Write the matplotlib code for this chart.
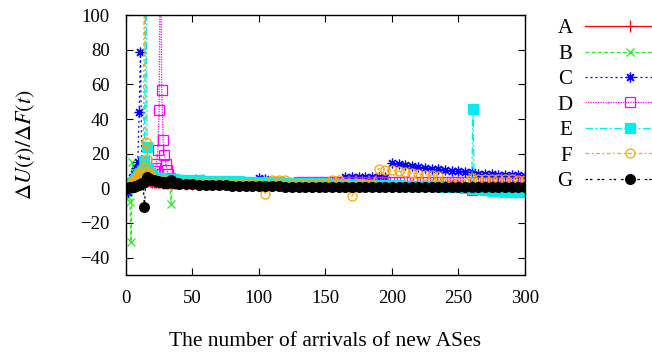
import numpy as np
import matplotlib.pyplot as plt

plt.rcParams['font.family'] = ['Liberation Serif', 'DejaVu Serif']
plt.rcParams['mathtext.fontset'] = 'stix'

# arrival index: every arrival up to 40, then every 5th
x = np.concatenate([np.arange(0, 41), np.arange(45, 301, 5)])
# E is sampled a little finer around its late jump
x_E = np.concatenate([np.arange(0, 41), np.arange(45, 256, 5),
                      [260, 261, 262], np.arange(265, 301, 5)])

A = [0, 0.5, 1, 1, 1.5, 2, 2, 2.5, 3, 3,
     3.5, 3.5, 4, 4, 4.5, 4.5, 4.5, 4, 4, 4,
     3.8, 3.8, 3.6, 3.6, 3.5, 3.5, 3.4, 3.4, 3.3, 3.3,
     3.2, 3.2, 3.1, 3.1, 3, 3, 3, 2.9, 2.9, 2.8,
     2.8,
     2.7, 2.6, 2.5, 2.5, 2.4, 2.4, 2.3, 2.3, 2.2, 2.2,
     2.1, 2.1, 2, 2, 2, 2, 1.9, 1.9, 1.9, 1.8,
     1.8, 1.8, 1.8, 1.7, 1.7, 1.7, 1.7, 1.6, 1.6, 1.6,
     1.6, 1.6, 1.5, 1.5, 1.5, 1.5, 1.5, 1.5, 1.4, 1.4,
     1.4, 1.4, 1.4, 1.4, 1.4, 1.3, 1.3, 1.3, 1.3, 1.3,
     1.3, 1.3]

B = [0, -2, -5, -8, -31, 15, 4, 9, 6, 5,
     6, 5, 5, 5, 4.5, 4.5, 4.5, 4.5, 4.5, 4.5,
     4.5, 4.5, 4.5, 4, 4, 4, 4, 4, 4, 4,
     4, 4, 3.8, 3.8, -9, 4, 4, 3.8, 3.8, 3.8,
     3.8,
     3.7, 3.6, 6, 3.5, 3.4, 3.3, 3.2, 3.1, 3, 3,
     2.9, 2.9, 2.8, 2.8, 2.7, 2.7, 2.6, 2.6, 2.5, 2.5,
     2.5, 2.4, 2.4, 2.4, 2.3, 2.3, 2.3, 2.2, 2.2, 2.2,
     2.2, 2.1, 2.1, 2.1, 2.1, 2, 2, 2, 2, 2,
     2, 1.9, 1.9, 1.9, 1.9, 1.9, 1.8, 1.8, 1.8, 1.8,
     1.8, 1.8]

C = [0, -1, -2, 1, 3, 6, 8, 5, 12, 15,
     44, 79, 15, 9, 7, 6, 5.5, 5, 5, 5,
     4.8, 4.8, 4.6, 4.6, 4.5, 4.5, 4.4, 4.4, 4.3, 4.3,
     4.2, 4.2, 4.1, 4.1, 4, 4, 4, 3.9, 3.9, 3.9,
     3.8,
     3.8, 3.7, 3.7, 3.6, 3.6, 3.5, 3.5, 3.4, 3.4, 3.4,
     3.4, 6.2, 5.5, 3.4, 3.3, 3.3, 3.3, 3.2, 3.2, 3.2,
     3.2, 3.1, 3.1, 3.1, 6.5, 6.4, 6.4, 6.3, 6.3, 6.5,
     6.4, 14.4, 13.9, 13.4, 12.9, 12.4, 11.9, 11.4, 10.9, 10.5,
     10.1, 9.8, 9.5, 9.3, 8.3, 8.1, 8, 7.9, 7.8, 7.6,
     7.5, 7.4]

D = [0, 0.5, 1, 1, 1.5, 2, 2, 2.5, 3, 3,
     3.5, 3.5, 4, 4, 5, 5, 6, 6, 7, 8,
     8, 10, 12, 14, 22, 45, 150, 57, 28, 19,
     14, 10.5, 8, 6, 5, 4.5, 4.2, 4, 4, 3.9,
     3.8,
     3.7, 3.6, 3.5, 3.5, 3.4, 3.4, 3.4, 3.3, 3.3, 3.3,
     3.3, 3.3, 3.3, 3.3, 3.3, 3.3, 3.3, 3.4, 3.4, 3.4,
     3.4, 3.4, 3.4, 3.4, 3.4, 3.4, 3.4, 3.4, 3.5, 3.5,
     3.5, 3.5, 3.5, 3.5, 3.5, 3.5, 3.5, 3.5, 3.5, 3.5,
     3.5, 3.5, 3.5, -1, 3.5, 3.5, 3.6, 3.6, 3.6, 3.6,
     3.6, 3.6]

E = [0, 0.5, 1, 1.5, 2, 3, 4, 5, 6, 7,
     8, 9, 10, 10, 16, 150, 24, 12, 9, 8,
     7, 6.5, 6, 6, 6, 5.8, 5.8, 5.6, 5.6, 5.5,
     5.5, 5.4, 5.4, 5.3, 5.2, 5.2, 5.1, 5, 5, 5,
     4.9,
     4.8, 4.7, 4.6, 4.5, 4.4, 4.3, 4.2, 4.1, 4, 3.9,
     3.8, 3.7, 3.6, 3.5, 3.4, 3.3, 3.2, 3.1, 3, 3,
     2.9, 2.8, 2.7, 2.6, 2.5, 2.4, 2.3, 2.2, 2.1, 2,
     1.9, 1.8, 1.7, 1.6, 1.5, 1.4, 1.3, 1.2, 1.1, 1,
     0.8, 0.6, 0.4, 0.2, 46, -0.3, -0.5, -1, -1.5, -1.5, -2, -2,
     -2, -2]

F = [0, 0.5, 1, 1.5, 2, 3, 4, 5, 6, 7,
     8, 9, 10, 12, 150, 27, 17, 10, 8, 7,
     6, 5.5, 5, 5, 4.5, 4.5, 4.2, 4.2, 4, 4,
     3.8, 3.8, 3.6, 3.6, 3.5, 3.5, 3.4, 3.4, 3.3, 3.3,
     3.2,
     3.1, 3, 3, 2.9, 2.9, 2.8, 2.8, 2.7, 2.7, 2.6,
     2.6, 2.6, -3, 4.6, 4.6, 4.6, 2.5, 2.5, 2.5, 2.5,
     2.5, 2.5, 4.6, 4.6, 2.5, -4.6, 2.5, 2.5, 2.5, 11.3,
     10.8, 10.3, 9.8, 9.3, 8.8, 8.3, 7.9, 7.5, 7.1, 3.3,
     3.3, 3.3, 3.3, 5.8, 5.6, 5.5, 5.4, 5.3, 5.2, 5.1,
     5, 4.9]

G = [0, 0, 0, 0.5, 0.5, 1, 1, 1.5, 1.5, 2,
     2, 2.5, 3, 3, -11, 4.5, 6.5, 6, 5.5, 5,
     4.8, 4.6, 4.4, 4.2, 4, 3.8, 3.6, 3.5, 3.4, 3.3,
     3.2, 3.2, 3.5, 4.5, 4.6, 3.5, 3, 3, 2.9, 2.8,
     2.7,
     2.5, 2.3, 2.1, 2, 1.9, 1.8, 1.7, 1.6, 1.5, 1.4,
     1.3, 1.2, 1.2, 1.1, 1.1, 1, 1, 1, 0.9, 0.9,
     0.9, 0.9, 0.8, 0.8, 0.8, 0.8, 0.8, 0.8, 0.8, 0.8,
     0.8, 0.8, 0.8, 0.8, 0.8, 0.8, 0.8, 0.8, 0.8, 0.8,
     0.8, 0.8, 0.8, 0.8, 0.8, 0.8, 0.8, 0.8, 0.8, 0.8,
     0.8, 0.8]

labels = ['A', 'B', 'C', 'D', 'E', 'F', 'G']
series = [A, B, C, D, E, F, G]
xs = [x, x, x, x, x_E, x, x]

styles = [
    dict(color='#ff0000', ls='-', marker='+', ms=8, mfc='#ff0000'),
    dict(color='#22ee22', ls=(0, (3, 2)), marker='x', ms=6, mfc='#22ee22'),
    dict(color='#0000ff', ls=(0, (1.6, 2.4)), marker=(8, 2, 0), ms=7, mfc='#0000ff'),
    dict(color='#ff00ff', ls=(0, (1, 1)), marker='s', ms=6.5, mfc='none'),
    dict(color='#00eeee', ls=(0, (6, 2, 1.5, 2)), marker='s', ms=6.5, mfc='#00eeee'),
    dict(color='#ffa500', ls=(0, (3, 2, 1.5, 2)), marker='o', ms=6.5, mfc='none'),
    dict(color='#000000', ls=(0, (2, 1.5, 2, 4)), marker='o', ms=7, mfc='#000000'),
]

fig = plt.figure(figsize=(6.52, 3.52), dpi=100)
ax = fig.add_axes([0.193, 0.219, 0.612, 0.738])

handles = []
for lab, xx, y, st in zip(labels, xs, series, styles):
    h, = ax.plot(xx, y, lw=0.9, mew=0.9, label=lab, **st)
    handles.append(h)

ax.set_xlim(0, 300)
ax.set_ylim(-50, 100)
ax.set_xticks([0, 50, 100, 150, 200, 250, 300])
ax.set_yticks([-40, -20, 0, 20, 40, 60, 80, 100])
ax.tick_params(direction='in', length=5, width=0.8, top=True, right=True,
               labelsize=13.5, pad=11)
ax.tick_params(axis='y', pad=11.5)
for s in ax.spines.values():
    s.set_linewidth(1.0)

ax.set_xlabel('The number of arrivals of new ASes', fontsize=15.5, labelpad=18)
ax.set_ylabel(r'$\Delta U(t)/\Delta F(t)$', fontsize=16, labelpad=31)

fig.legend(handles=handles, loc='upper left', bbox_to_anchor=(0.842, 0.97),
           frameon=False, markerfirst=False, fontsize=15, handlelength=4.3,
           handletextpad=0.6, labelspacing=0.28, borderaxespad=0)

fig.savefig('out.png', dpi=100)
